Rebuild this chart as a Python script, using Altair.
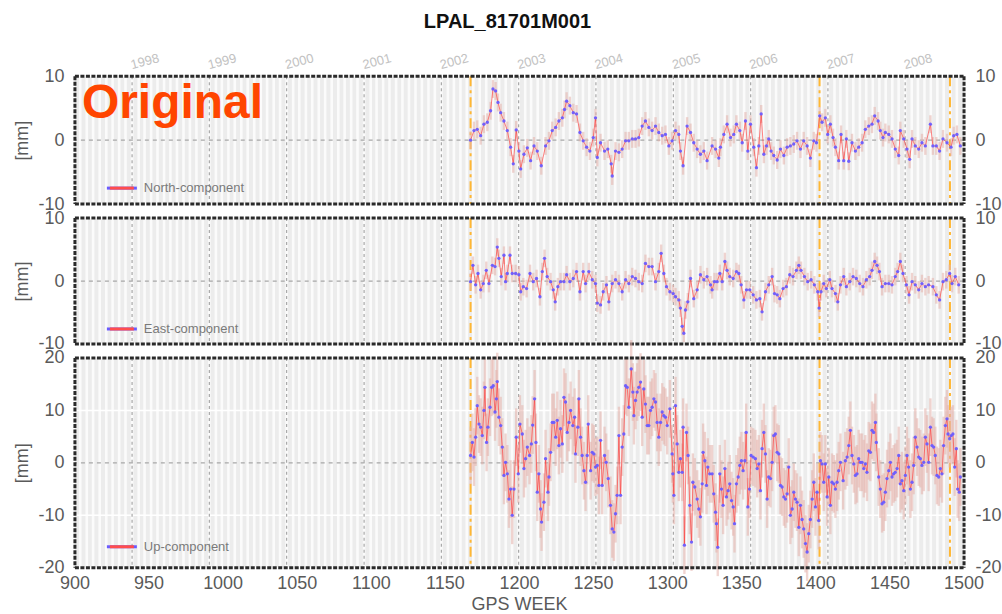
import datetime as dt
import altair as alt
import pandas as pd

TITLE = "LPAL_81701M001"
X_TITLE = "GPS WEEK"
X_TICKS = list(range(900, 1501, 50))
YEARS = list(range(1998, 2009))
EVENT_WEEKS = [1167.0, 1402.5, 1490.5]
COMPONENTS = ["North-component", "East-component", "Up-component"]
Y_LIMITS = [10, 10, 20]
Y_TICKS = [[-10, 0, 10], [-10, 0, 10], [-20, -10, 0, 10, 20]]
SIGMAS = [1.4, 1.4, 5.5]

N_WEEKS = [1167.0, 1169.3, 1171.5, 1173.8, 1176.0, 1178.3, 1180.5, 1182.1, 1183.9, 1185.5,
           1187.3, 1189.5, 1191.8, 1194.0, 1195.8, 1197.8, 1199.6, 1200.8, 1203.0, 1205.3,
           1207.5, 1209.8, 1212.0, 1214.7, 1217.6, 1219.9, 1222.1, 1224.4, 1226.6, 1228.9,
           1230.4, 1231.8, 1234.0, 1236.3, 1238.5, 1240.8, 1243.0, 1245.3, 1247.5, 1249.8,
           1251.3, 1252.5, 1254.7, 1257.4, 1259.6, 1261.9, 1262.6, 1264.8, 1267.1, 1269.3,
           1271.6, 1273.8, 1276.1, 1278.3, 1280.5, 1282.8, 1285.0, 1287.3, 1289.5, 1291.8,
           1294.0, 1296.3, 1298.5, 1300.8, 1303.0, 1305.3, 1307.5, 1308.6, 1310.4, 1313.1,
           1315.4, 1317.6, 1319.9, 1322.1, 1324.4, 1326.6, 1330.0, 1332.3, 1334.5, 1335.6,
           1337.9, 1340.1, 1342.4, 1344.6, 1346.4, 1348.7, 1350.3, 1352.5, 1354.1, 1355.9,
           1358.1, 1359.9, 1361.5, 1363.1, 1364.9, 1366.7, 1368.2, 1369.8, 1371.6, 1373.9,
           1376.1, 1378.4, 1380.6, 1382.8, 1385.1, 1387.3, 1389.6, 1391.8, 1394.1, 1396.3,
           1398.6, 1400.4, 1402.6, 1404.2, 1406.4, 1408.0, 1409.8, 1411.6, 1413.2, 1415.4,
           1417.0, 1418.8, 1420.6, 1422.2, 1424.4, 1426.7, 1428.9, 1431.2, 1433.4, 1435.7,
           1437.9, 1439.7, 1442.0, 1443.5, 1445.3, 1446.9, 1449.2, 1451.4, 1453.6, 1455.9,
           1457.0, 1459.3, 1461.5, 1463.3, 1464.9, 1467.1, 1469.4, 1471.6, 1473.9, 1477.3,
           1479.0, 1481.3, 1483.5, 1485.8, 1488.5, 1491.2, 1493.0, 1495.2, 1497.5]
N_VALUES = [0.0, 1.5, 1.7, 0.7, 2.5, 2.8, 4.6, 8.0, 7.7, 5.9,
            4.3, 3.0, 1.5, -1.1, -3.7, 1.6, -1.7, -4.5, -2.2, -1.2,
            -3.2, -0.9, -1.7, -4.0, -0.9, -0.1, 1.5, 2.0, 3.0, 3.5,
            4.8, 6.1, 5.4, 4.3, 4.1, 1.2, -0.1, -1.1, -1.7, 0.4,
            3.5, -2.7, -0.4, -1.7, -1.4, -3.7, -5.6, -1.7, -1.9, -1.4,
            -0.1, -0.1, 0.2, 0.2, 0.4, 2.2, 3.0, 2.0, 1.5, 2.2,
            1.2, 0.7, 0.9, -0.9, -0.1, 1.5, 0.9, -1.7, -4.0, 2.2,
            1.2, -0.4, -1.4, -2.2, -1.7, -3.2, -0.9, -1.4, -2.8, -1.1,
            0.9, 2.5, 0.4, 0.9, 2.5, 1.5, -0.4, 3.0, -1.7, 2.5,
            -1.1, -4.3, -0.9, 4.1, -2.2, -0.9, 0.2, -1.7, -2.4, -3.1,
            -1.4, -2.4, -1.1, -0.9, -0.6, -0.1, -1.4, -0.1, -0.9, -2.8,
            -0.1, -0.4, 3.8, 2.8, 3.5, 0.9, 2.5, 0.4, -1.1, -3.2,
            0.9, -3.2, 0.2, -3.3, -0.4, -1.7, -1.1, -0.4, 1.7, 2.2,
            2.5, 3.8, 3.0, 1.5, 0.4, 1.2, 0.9, 0.2, -1.4, -2.4,
            1.5, 0.2, -1.4, -3.0, 0.2, -0.9, -1.4, -0.4, -0.9, 2.5,
            -0.9, -0.9, -1.7, 0.2, -0.4, -1.1, 0.7, 0.9, -0.9]

E_WEEKS = [1167.0, 1168.6, 1170.4, 1172.0, 1173.8, 1175.6, 1177.6, 1179.4, 1181.7, 1183.5,
           1185.0, 1186.1, 1187.7, 1189.5, 1190.6, 1191.8, 1193.6, 1195.1, 1197.4, 1199.6,
           1200.8, 1202.6, 1204.8, 1207.1, 1209.3, 1211.5, 1213.8, 1215.4, 1216.9, 1218.7,
           1221.0, 1222.8, 1224.1, 1225.9, 1227.7, 1230.0, 1231.8, 1234.0, 1236.3, 1238.5,
           1240.8, 1243.0, 1244.6, 1246.8, 1249.1, 1251.3, 1252.5, 1254.7, 1256.5, 1258.7,
           1260.3, 1262.6, 1264.8, 1267.1, 1269.3, 1271.6, 1273.8, 1276.1, 1278.3, 1280.5,
           1282.8, 1285.0, 1287.3, 1289.5, 1291.8, 1294.0, 1295.6, 1297.4, 1299.2, 1301.5,
           1303.7, 1305.3, 1307.5, 1308.6, 1309.8, 1310.9, 1312.0, 1313.6, 1315.4, 1317.6,
           1319.9, 1322.1, 1324.4, 1326.6, 1328.9, 1330.0, 1331.6, 1333.4, 1335.2, 1336.8,
           1338.6, 1340.1, 1341.9, 1344.2, 1346.4, 1348.0, 1349.6, 1351.4, 1353.2, 1355.4,
           1357.7, 1359.9, 1362.2, 1363.7, 1366.0, 1368.2, 1370.5, 1372.1, 1373.9, 1375.7,
           1377.9, 1380.1, 1382.4, 1384.6, 1386.9, 1388.5, 1390.0, 1392.3, 1394.5, 1396.8,
           1399.0, 1401.3, 1402.2, 1403.5, 1405.3, 1407.1, 1409.4, 1410.9, 1413.2, 1414.8,
           1416.6, 1418.8, 1420.6, 1422.9, 1425.1, 1427.3, 1429.6, 1431.8, 1434.1, 1436.3,
           1437.9, 1439.7, 1441.3, 1442.9, 1444.7, 1446.9, 1449.2, 1451.4, 1453.6, 1455.2,
           1457.0, 1458.8, 1461.1, 1462.9, 1464.9, 1467.1, 1469.4, 1471.6, 1473.9, 1476.1,
           1479.0, 1481.3, 1483.5, 1485.8, 1488.0, 1490.3, 1491.9, 1494.1, 1496.4]
E_VALUES = [-0.1, 2.5, -0.6, 1.2, -1.4, -0.4, 1.7, -0.4, 2.5, 2.3,
            5.4, 3.6, 0.7, 4.1, -0.1, 1.2, 4.1, 1.2, 1.2, 1.0,
            -1.7, -0.9, -1.2, 1.2, -0.1, 0.4, -2.5, 1.5, 3.6, 0.7,
            -0.1, -1.4, -3.3, -0.9, -0.1, -0.1, 1.0, -0.1, 0.4, 1.5,
            -1.7, 1.5, -0.4, 1.5, 0.2, -0.4, -3.5, -3.8, -1.7, -0.6,
            -3.3, -0.4, 0.2, -0.4, -1.7, 0.2, -0.4, 0.7, 0.4, -0.1,
            -0.4, 2.8, 2.3, 2.3, -0.1, 1.5, 4.4, 1.2, -0.9, -1.7,
            -2.0, -2.5, -3.0, -4.3, -7.2, -8.3, -4.6, -3.3, 0.4, -2.8,
            -1.4, 1.0, 0.2, 0.7, -0.6, -1.4, -0.1, -0.1, 1.2, -0.1,
            3.1, 1.7, 0.7, 0.4, 1.5, 1.2, -0.6, -3.0, -1.4, -1.4,
            -2.2, -3.0, -2.8, -4.9, -1.7, -0.6, 0.7, -2.0, -2.2, -2.8,
            -1.2, -0.9, 1.0, 0.7, 1.7, 2.5, 1.7, 0.7, -0.1, 0.2,
            -0.6, -1.7, -4.3, -1.7, -0.4, -1.2, 0.2, -1.2, -2.0, -3.3,
            -0.6, 0.7, -0.9, -0.1, 0.7, 0.4, -0.4, -0.9, 0.2, 0.7,
            1.7, 3.1, 2.5, 1.5, -0.9, -0.4, -0.4, -0.6, 0.7, 1.5,
            3.1, 1.2, -0.6, -2.2, -0.1, -0.6, -1.4, -0.4, -0.9, -0.6,
            -0.9, -2.2, -3.0, -0.1, 0.2, 1.2, -0.4, 0.7, -0.6]

U_WEEKS = [1167.0, 1168.2, 1169.3, 1170.4, 1171.5, 1172.7, 1173.8, 1174.9, 1176.0, 1176.7,
           1177.8, 1178.7, 1180.1, 1181.2, 1182.3, 1183.5, 1184.4, 1185.0, 1186.1, 1187.3,
           1188.4, 1189.5, 1190.6, 1191.8, 1192.9, 1194.0, 1195.1, 1196.3, 1197.8, 1199.2,
           1200.3, 1201.9, 1203.0, 1204.1, 1205.3, 1206.8, 1208.0, 1208.9, 1210.2, 1211.1,
           1212.0, 1213.1, 1214.2, 1214.9, 1216.5, 1217.6, 1219.2, 1219.9, 1221.0, 1222.1,
           1223.2, 1224.4, 1225.5, 1226.6, 1227.7, 1228.9, 1230.0, 1231.1, 1232.2, 1233.4,
           1234.5, 1236.0, 1237.2, 1237.8, 1239.4, 1240.1, 1241.2, 1242.3, 1243.5, 1244.6,
           1245.7, 1246.4, 1248.0, 1249.1, 1250.2, 1251.3, 1252.5, 1253.6, 1254.7, 1255.8,
           1257.4, 1258.5, 1259.9, 1261.4, 1262.6, 1263.7, 1264.8, 1265.9, 1267.1, 1268.2,
           1269.3, 1270.4, 1271.6, 1272.7, 1273.8, 1275.4, 1276.5, 1277.2, 1278.3, 1279.4,
           1280.5, 1281.7, 1282.8, 1283.9, 1285.0, 1286.2, 1287.3, 1288.4, 1289.5, 1290.7,
           1291.8, 1292.9, 1294.0, 1295.2, 1296.3, 1297.4, 1298.5, 1299.7, 1301.5, 1303.0,
           1303.5, 1304.2, 1305.3, 1306.4, 1307.5, 1308.6, 1309.8, 1310.4, 1311.3, 1312.7,
           1313.8, 1314.9, 1316.1, 1317.0, 1318.3, 1319.9, 1321.0, 1322.1, 1323.3, 1323.9,
           1325.1, 1326.2, 1327.1, 1328.4, 1330.0, 1331.1, 1332.3, 1332.9, 1333.8, 1335.2,
           1336.3, 1337.4, 1338.6, 1339.7, 1340.8, 1341.9, 1343.1, 1344.2, 1345.1, 1346.4,
           1347.6, 1348.7, 1349.8, 1350.9, 1352.1, 1353.0, 1354.1, 1355.2, 1356.3, 1357.7,
           1359.2, 1360.4, 1361.5, 1362.6, 1363.7, 1364.9, 1366.0, 1367.1, 1368.2, 1369.4,
           1370.5, 1371.6, 1372.7, 1373.9, 1375.0, 1376.1, 1377.2, 1378.4, 1379.5, 1380.6,
           1381.7, 1382.8, 1384.0, 1385.1, 1386.2, 1387.3, 1388.5, 1389.6, 1390.7, 1391.8,
           1393.0, 1394.1, 1395.2, 1396.3, 1397.5, 1398.6, 1399.7, 1400.8, 1401.9, 1403.1,
           1404.2, 1405.3, 1406.4, 1407.6, 1408.7, 1409.8, 1410.9, 1412.1, 1413.2, 1414.3,
           1415.4, 1416.6, 1418.4, 1419.9, 1421.1, 1422.2, 1423.3, 1424.4, 1425.6, 1426.7,
           1427.8, 1428.9, 1430.0, 1431.2, 1432.3, 1433.4, 1434.5, 1435.7, 1436.8, 1437.9,
           1439.0, 1440.2, 1440.8, 1442.4, 1443.5, 1444.7, 1445.8, 1446.9, 1448.0, 1449.2,
           1450.3, 1451.4, 1452.5, 1453.6, 1454.8, 1455.9, 1457.0, 1458.1, 1459.3, 1460.4,
           1461.5, 1462.6, 1463.8, 1464.9, 1466.0, 1467.1, 1468.3, 1469.4, 1470.5, 1471.6,
           1472.8, 1473.9, 1475.0, 1476.1, 1477.3, 1478.4, 1479.5, 1480.6, 1481.7, 1482.9,
           1484.0, 1485.1, 1486.2, 1487.4, 1488.5, 1489.2, 1490.3, 1491.4, 1492.5, 1493.7,
           1494.8, 1495.7, 1496.8, 1497.5]
U_VALUES = [1.4, 3.9, 1.1, 4.9, 10.9, 7.4, 6.8, 5.2, 10.0, 14.4,
            3.9, 6.8, 10.6, 14.4, 14.7, 9.7, 12.2, 15.5, 8.7, 7.1,
            3.0, -2.4, 0.1, -2.1, -6.9, -5.0, -10.0, -5.0, 4.9, -2.1,
            7.4, 5.5, -1.1, 0.8, 3.0, 1.4, 3.6, 7.2, 12.2, 3.9,
            -5.6, -2.1, -8.8, -11.3, -7.5, 0.8, -5.6, -2.7, 2.0, 7.7,
            7.7, 4.9, 8.1, 3.3, 6.5, 3.6, 12.5, 11.6, 5.8, 7.7,
            10.0, 7.1, 8.7, 1.7, 6.8, 12.2, 4.9, 1.4, -1.5, -3.7,
            1.4, 7.4, -1.5, 2.0, 1.7, -0.8, -0.5, -4.3, 4.3, -4.3,
            1.4, 0.1, -3.0, -8.1, -12.6, -13.2, -9.7, -6.2, 5.2, -6.2,
            3.0, 5.5, 14.7, 14.4, 10.6, 17.9, 13.5, 9.0, 11.9, 13.5,
            14.4, 15.4, 8.7, 14.1, 11.2, 7.1, 7.1, 10.0, 10.6, 12.2,
            11.6, 7.7, 4.9, 7.7, 9.7, 9.0, 8.7, 7.1, 10.3, 1.7,
            -2.1, -6.2, 10.9, 3.6, -1.8, 0.8, -1.8, 6.8, -15.7, 5.8,
            1.4, -8.1, -15.1, -3.7, -4.6, -6.9, -8.8, -10.3, -4.0, 2.0,
            0.4, -4.3, -0.8, -2.1, -2.1, -5.9, -9.4, -11.6, -16.1, -2.1,
            -5.0, -8.1, -1.1, -6.5, -5.3, -4.0, -7.2, -8.4, -11.6, -4.0,
            -2.7, -0.5, 0.4, -1.5, 0.4, 5.8, -8.4, -5.0, 1.4, 1.1,
            0.8, -1.1, -0.2, -5.3, 2.7, 5.8, 1.7, -6.9, -2.7, -3.0,
            0.1, 5.2, 5.5, 2.0, 1.7, -4.3, -4.6, -6.5, -6.9, -5.9,
            -0.8, -10.0, -8.8, -5.6, -6.9, -7.5, -12.3, -8.1, -10.8, -12.6,
            -15.4, -17.0, -13.5, -10.8, -6.9, -3.7, -8.4, -5.6, -11.0, 0.4,
            -0.2, -3.7, -0.2, -6.5, -2.7, -8.1, -3.7, -4.0, -5.0, -3.7,
            -1.5, 0.1, -3.4, 0.4, 1.1, 3.3, 6.2, 1.4, -0.2, -2.4,
            -2.1, 0.8, 0.1, 0.1, -1.1, -0.2, -1.8, 2.3, 2.0, 6.2,
            5.8, 7.7, 3.9, -2.7, -5.0, -7.8, -7.5, -5.6, -3.0, -1.5,
            0.1, -2.7, -2.1, -1.8, -1.1, 1.4, -4.0, -3.4, -5.3, -2.4,
            1.4, -0.8, -5.0, -3.7, -0.5, 4.9, 3.0, 1.1, 0.8, -0.5,
            0.1, 4.9, 3.6, 0.1, 6.8, 3.3, 3.0, 1.4, -2.4, -2.7,
            -1.1, -2.1, 3.3, 7.1, 8.4, 5.5, 4.6, 5.2, 5.5, -0.8,
            2.7, -5.0, -5.6, -2.7]

SERIES = [(N_WEEKS, N_VALUES), (E_WEEKS, E_VALUES), (U_WEEKS, U_VALUES)]

# ---------------------------------------------------------------- styling
FONT = "Liberation Sans, Arial, sans-serif"
W = 890
HEIGHTS = [128, 126, 210]
LEGEND_UP = [16, 15, 21]
BG = "#ececec"
AXIS_GREY = "#5a5a5a"

GPS_EPOCH = dt.date(1980, 1, 6)


def gps_week(d):
    return (d - GPS_EPOCH).days / 7.0


year_df = pd.DataFrame({"week": [gps_week(dt.date(y, 1, 1)) for y in YEARS],
                        "label": [str(y) for y in YEARS]})
month_weeks = [gps_week(dt.date(y, m, 1)) for y in range(1997, 2009) for m in range(1, 13)]
month_df = pd.DataFrame({"week": [w for w in month_weeks if 901 < w < 1499]})
event_df = pd.DataFrame({"week": EVENT_WEEKS})
xtick_df = pd.DataFrame({"week": X_TICKS, "label": [str(t) for t in X_TICKS]})
one = pd.DataFrame({"k": [0]})

XS = alt.Scale(domain=[900, 1500], nice=False, zero=False)

AX_STYLE = dict(labelFont=FONT, labelFontSize=18, labelColor=AXIS_GREY,
                titleFont=FONT, titleFontSize=18, titleFontWeight="normal", titleColor=AXIS_GREY,
                grid=False, ticks=False, domain=False, labelExpr="'' + datum.value")


def panel(i):
    h = HEIGHTS[i]
    lim = Y_LIMITS[i]
    ys = alt.Scale(domain=[-lim, lim], nice=False, zero=False)
    weeks, vals = SERIES[i]
    df = pd.DataFrame({"week": weeks, "value": vals})
    df["lo"] = df["value"] - SIGMAS[i]
    df["hi"] = df["value"] + SIGMAS[i]

    yleft = alt.Axis(values=Y_TICKS[i], title="[mm]", orient="left",
                     labelPadding=11, titlePadding=6, **AX_STYLE)
    yright = alt.Axis(values=Y_TICKS[i], title=None, orient="right", labelPadding=11, **AX_STYLE)

    stripes = alt.Chart(month_df).mark_rule(color="#fbfbfb", strokeWidth=2.6).encode(
        x=alt.X("week:Q", scale=XS, axis=None))
    hgrid = alt.Chart(pd.DataFrame({"v": [t for t in Y_TICKS[i] if t != 0]})).mark_rule(
        color="#ffffff", strokeWidth=1.5).encode(y=alt.Y("v:Q", scale=ys, axis=None))
    ylines = alt.Chart(year_df).mark_rule(color="#a8a8a8", strokeDash=[3, 3], strokeWidth=1.2).encode(
        x=alt.X("week:Q", scale=XS, axis=None))
    zero = alt.Chart(one).mark_rule(color="#a8a8a8", strokeDash=[4, 4], strokeWidth=1.2).encode(
        y=alt.datum(0, scale=ys, axis=None))
    events = alt.Chart(event_df).mark_rule(color="#ffb733", strokeDash=[10, 4, 3, 4], strokeWidth=2).encode(
        x=alt.X("week:Q", scale=XS, axis=None))
    err = alt.Chart(df).mark_rule(color="#e6b3ac", strokeWidth=2.4, opacity=0.55).encode(
        x=alt.X("week:Q", scale=XS, axis=None),
        y=alt.Y("lo:Q", scale=ys, axis=yleft),
        y2="hi:Q")
    line = alt.Chart(df).mark_line(color="#ff3030", strokeWidth=1.0, opacity=0.6).encode(
        x=alt.X("week:Q", scale=XS, axis=None),
        y=alt.Y("value:Q", scale=ys, axis=None))
    pts = alt.Chart(df).mark_point(filled=True, color="#6a5cff", size=11, opacity=0.95).encode(
        x=alt.X("week:Q", scale=XS, axis=None),
        y=alt.Y("value:Q", scale=ys, axis=yright))

    frame_style = dict(color="#2a2a2a", strokeWidth=3, strokeDash=[4, 1.5])
    top_b = alt.Chart(one).mark_rule(**frame_style).encode(
        x=alt.value(0), x2=alt.value(W), y=alt.value(0))
    bot_b = alt.Chart(one).mark_rule(**frame_style).encode(
        x=alt.value(0), x2=alt.value(W), y=alt.value(h))
    left_b = alt.Chart(one).mark_rule(**frame_style).encode(
        x=alt.value(0), y=alt.value(0), y2=alt.value(h))
    right_b = alt.Chart(one).mark_rule(**frame_style).encode(
        x=alt.value(W), y=alt.value(0), y2=alt.value(h))

    ly = h - LEGEND_UP[i]
    leg_df = pd.DataFrame({"label": [COMPONENTS[i]]})
    leg_blue = alt.Chart(leg_df).mark_rule(color="#6a5cff", strokeWidth=3).encode(
        x=alt.value(32), x2=alt.value(62), y=alt.value(ly))
    leg_red = alt.Chart(leg_df).mark_rule(color="#ff4d4d", strokeWidth=3).encode(
        x=alt.value(35), x2=alt.value(59), y=alt.value(ly))
    leg_txt = alt.Chart(leg_df).mark_text(align="left", baseline="middle", fontSize=13,
                                          color="#7a7a7a", font=FONT).encode(
        x=alt.value(69), y=alt.value(ly), text="label:N")

    layers = [stripes, hgrid, ylines, zero, events, err, line, pts,
              top_b, bot_b, left_b, right_b, leg_blue, leg_red, leg_txt]

    if i == 0:
        ylab = alt.Chart(year_df).mark_text(align="left", baseline="alphabetic", angle=345,
                                            fontSize=13, color="#c2c2c2", font=FONT, dx=0).encode(
            x=alt.X("week:Q", scale=XS, axis=None), y=alt.value(-7), text="label:N")
        orig = alt.Chart(pd.DataFrame({"t": ["Original"]})).mark_text(
            align="left", baseline="alphabetic", fontSize=48, fontWeight="bold",
            color="#ff4500", font=FONT).encode(x=alt.value(7), y=alt.value(42), text="t:N")
        layers += [ylab, orig]

    if i == 2:
        xlab = alt.Chart(xtick_df).mark_text(align="center", baseline="middle", fontSize=18,
                                             color=AXIS_GREY, font=FONT).encode(
            x=alt.X("week:Q", scale=XS, axis=None), y=alt.value(h + 16), text="label:N")
        xtitle = alt.Chart(pd.DataFrame({"t": [X_TITLE]})).mark_text(
            align="center", baseline="middle", fontSize=18, color=AXIS_GREY, font=FONT).encode(
            x=alt.value(W / 2), y=alt.value(h + 37), text="t:N")
        layers += [xlab, xtitle]

    return alt.layer(*layers).properties(width=W, height=h)


chart = alt.vconcat(panel(0), panel(1), panel(2), spacing=14, bounds="flush").properties(
    title=alt.TitleParams(TITLE, fontSize=20, fontWeight="bold", font=FONT, color="#111111",
                          anchor="middle", offset=20),
    padding={"left": 13, "top": 11, "right": 0, "bottom": 2},
    background="white",
).configure_view(fill=BG, stroke=None)

chart.save("out.html", embed_options={"renderer": "svg", "actions": False})
